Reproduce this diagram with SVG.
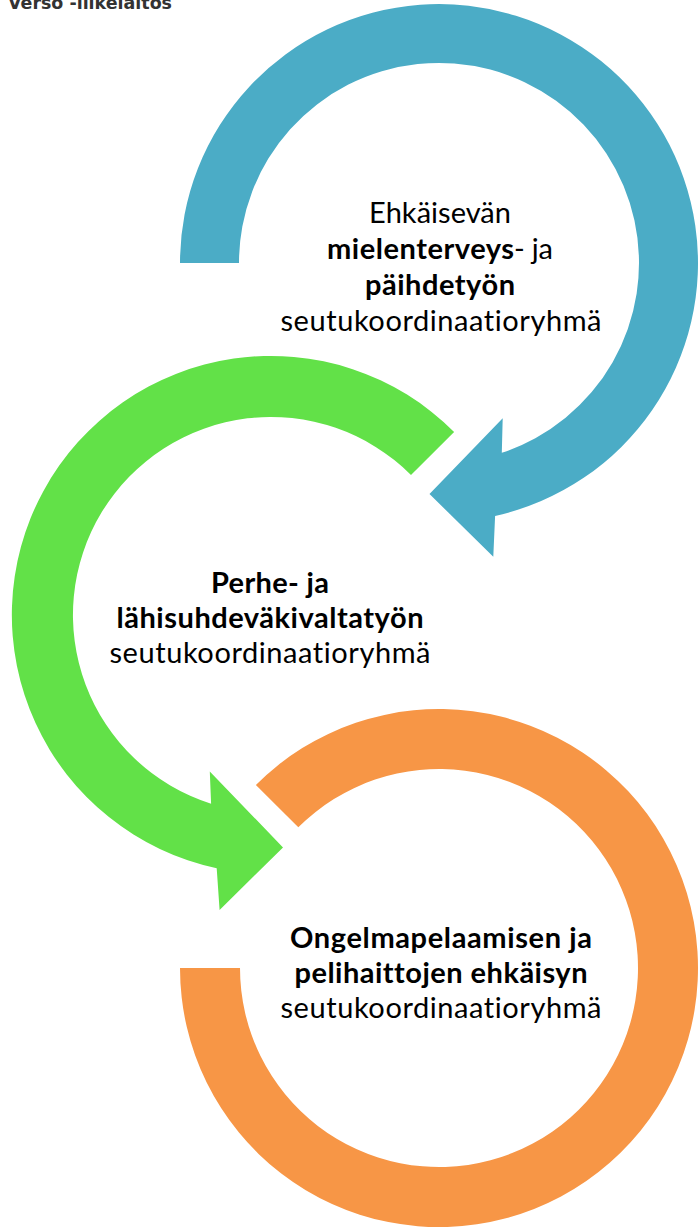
<svg xmlns="http://www.w3.org/2000/svg" width="699" height="1228" viewBox="0 0 699 1228">
<style>
.t{font-family:Lato,"Noto Sans","Liberation Sans",sans-serif;font-size:29px;fill:#000;font-variant-ligatures:none;font-feature-settings:"liga" 0,"clig" 0}
.b{font-weight:bold}
.hdr{font-family:"DejaVu Sans",Verdana,sans-serif;font-weight:bold;font-size:17px;fill:#333}
</style>
<rect width="699" height="1228" fill="#fff"/>
<g id="header">
<text class="hdr" x="8" y="9" textLength="164" lengthAdjust="spacingAndGlyphs">Verso -liikelaitos</text>
</g>
<g id="connectors">
<path id="ring-blue" fill="#4BACC6" d="M180 263 A259 259 0 1 1 495.1 515.9 L493.3 556.7 L429.5 494 L502.7 418.3 L501.8 452.8 A200 200 0 1 0 239 263 Z"/>
<path id="ring-green" fill="#62E148" d="M454.1 431.9 A259 259 0 1 0 216.7 868.2 L219.6 909.9 L283 847.4 L209.8 771.5 L211.1 803.7 A198 198 0 1 1 411 475 Z"/>
<path id="ring-orange" fill="#F79646" d="M255.9 784.9 A259 259 0 1 1 180 968 L240 968 A199 199 0 1 0 298.3 827.3 Z"/>
</g>
<g id="node-blue">
<text class="t" x="440" y="223" text-anchor="middle" textLength="142">Ehkäisevän</text>
<text class="t b" x="327" y="259" textLength="187">mielenterveys</text>
<text class="t" x="514" y="259" textLength="39">- ja</text>
<text class="t b" x="440" y="295" text-anchor="middle" textLength="150">päihdetyön</text>
<text class="t" x="441" y="331" text-anchor="middle" textLength="321">seutukoordinaatioryhmä</text>
</g>
<g id="node-green">
<text class="t b" x="270" y="593" text-anchor="middle" textLength="118">Perhe- ja</text>
<text class="t b" x="270" y="628" text-anchor="middle" textLength="307">lähisuhdeväkivaltatyön</text>
<text class="t" x="270" y="663" text-anchor="middle" textLength="321">seutukoordinaatioryhmä</text>
</g>
<g id="node-orange">
<text class="t b" x="441" y="948" text-anchor="middle" textLength="302">Ongelmapelaamisen ja</text>
<text class="t b" x="441" y="983" text-anchor="middle" textLength="293">pelihaittojen ehkäisyn</text>
<text class="t" x="441" y="1018" text-anchor="middle" textLength="321">seutukoordinaatioryhmä</text>
</g>
</svg>
